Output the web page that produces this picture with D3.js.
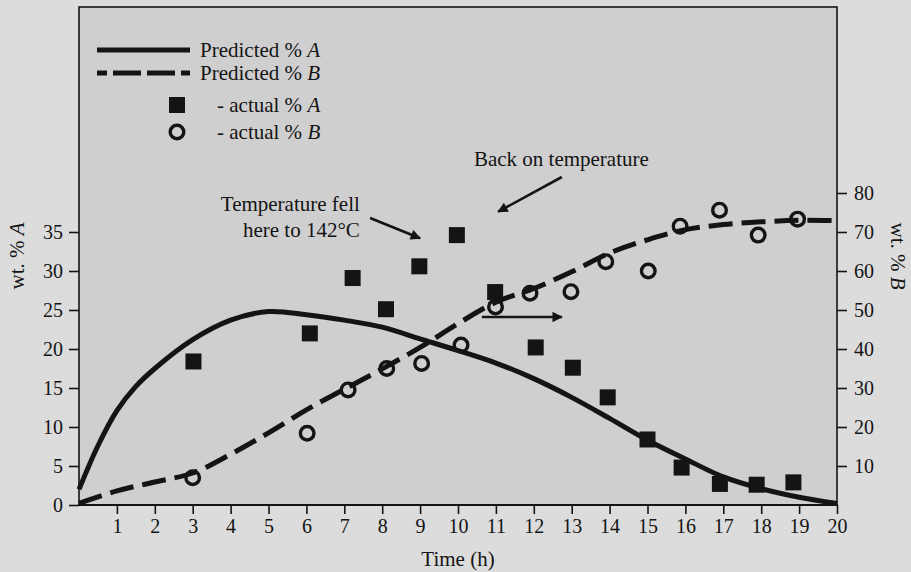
<!DOCTYPE html>
<html>
<head>
<meta charset="utf-8">
<script src="https://cdn.jsdelivr.net/npm/d3@7"></script>
<style>
  body { margin: 0; background: #dcdcdc; }
  svg { display: block; font-family: "Liberation Serif", "Times New Roman", serif; }
</style>
</head>
<body>
<div id="chart"></div>
<script>
// time ticks
const hours = d3.range(1, 21);
const leftTicks = [0, 5, 10, 15, 20, 25, 30, 35];
const rightTicks = [10, 20, 30, 40, 50, 60, 70, 80];

// predicted curves
const predTime = [0, 0.5, 1, 1.5, 2, 3, 4, 5, 6, 7, 8, 9, 10, 11, 12, 13, 14, 15, 16, 17, 18, 19, 20];
const predA = [2.0, 7.6, 12.1, 15.2, 17.5, 21.2, 23.7, 24.8, 24.4, 23.7, 22.8, 21.3, 19.8, 18.2, 16.2, 13.8, 11.1, 8.3, 5.9, 3.6, 2.1, 1.0, 0.2];
const predBTime = [0, 1, 2, 3, 4, 5, 6, 7, 8, 9, 10, 11, 12, 13, 14, 15, 16, 17, 18, 19, 20];
const predB = [0.4, 3.6, 5.9, 8.2, 13.0, 18.5, 24.4, 29.7, 34.9, 40.4, 46.5, 52.0, 55.5, 59.8, 64.6, 68.0, 70.6, 71.9, 72.6, 73.0, 72.9];

// measured points
const actATime = [3.02, 6.09, 7.22, 8.1, 8.98, 9.97, 10.98, 12.05, 13.03, 13.95, 15.0, 15.9, 16.91, 17.88, 18.85];
const actA = [18.4, 22.0, 29.1, 25.1, 30.6, 34.6, 27.3, 20.2, 17.6, 13.8, 8.4, 4.8, 2.7, 2.6, 2.9];
const actBTime = [3.0, 6.02, 7.1, 8.12, 9.04, 10.08, 10.99, 11.9, 12.98, 13.9, 15.02, 15.86, 16.9, 17.92, 18.96];
const actB = [7.0, 18.4, 29.5, 35.0, 36.3, 41.0, 50.8, 54.3, 54.7, 62.4, 60.0, 71.5, 75.6, 69.2, 73.3];

const W = 911, H = 572;
const ink = '#141414';
const svg = d3.select('#chart').append('svg').attr('width', W).attr('height', H);

const x = d3.scaleLinear().domain([0, 20]).range([79, 837]);
const yA = d3.scaleLinear().domain([0, 35]).range([505, 232]);
const yB = d3.scaleLinear().domain([0, 70]).range([505, 232]);
const plotTop = 7;

// plot background + frame
svg.append('rect')
    .attr('x', x(0)).attr('y', plotTop)
    .attr('width', x(20) - x(0)).attr('height', yA(0) - plotTop)
    .attr('fill', '#cfcfcf')
    .attr('stroke', ink).attr('stroke-width', 1.6);

// axes
const fontSize = 20;
const labelSize = 21;
const xAxis = svg.append('g')
    .attr('transform', `translate(0, ${yA(0)})`)
    .call(d3.axisBottom(x).tickValues(hours).tickSize(9).tickPadding(8).tickSizeOuter(0));
const leftAxis = svg.append('g')
    .attr('transform', `translate(${x(0)}, 0)`)
    .call(d3.axisLeft(yA).tickValues(leftTicks).tickSize(10).tickPadding(6).tickSizeOuter(0));
const rightAxis = svg.append('g')
    .attr('transform', `translate(${x(20)}, 0)`)
    .call(d3.axisRight(yB).tickValues(rightTicks).tickSize(10).tickPadding(7).tickSizeOuter(0));

[xAxis, leftAxis, rightAxis].forEach(g => {
    g.select('.domain').remove();
    g.selectAll('line').attr('stroke', ink).attr('stroke-width', 1.6);
    g.selectAll('text').attr('fill', ink).attr('font-size', fontSize)
        .attr('font-family', '"Liberation Serif", serif');
});
xAxis.selectAll('text').attr('dy', '0.55em');

svg.append('line')
    .attr('x1', x(0) - 1).attr('x2', x(20) + 1)
    .attr('y1', yA(0)).attr('y2', yA(0))
    .attr('stroke', ink).attr('stroke-width', 2.2);

// axis titles
svg.append('text')
    .attr('x', (x(0) + x(20)) / 2).attr('y', 566)
    .attr('text-anchor', 'middle').attr('font-size', labelSize).attr('fill', ink)
    .text('Time (h)');

const leftTitle = svg.append('text')
    .attr('transform', 'translate(24, 256) rotate(-90)')
    .attr('text-anchor', 'middle').attr('font-size', labelSize).attr('fill', ink);
leftTitle.append('tspan').text('wt. % ');
leftTitle.append('tspan').attr('font-style', 'italic').text('A');

const rightTitle = svg.append('text')
    .attr('transform', 'translate(891, 256) rotate(90)')
    .attr('text-anchor', 'middle').attr('font-size', labelSize).attr('fill', ink);
rightTitle.append('tspan').text('wt. % ');
rightTitle.append('tspan').attr('font-style', 'italic').text('B');

// predicted curves
const lineA = d3.line().x((d, i) => x(predTime[i])).y(d => yA(d)).curve(d3.curveCatmullRom.alpha(0.5));
const lineB = d3.line().x((d, i) => x(predBTime[i])).y(d => yB(d)).curve(d3.curveCatmullRom.alpha(0.5));

svg.append('path').datum(predA)
    .attr('d', lineA).attr('fill', 'none')
    .attr('stroke', ink).attr('stroke-width', 5);

svg.append('path').datum(predB)
    .attr('d', lineB).attr('fill', 'none')
    .attr('stroke', ink).attr('stroke-width', 5)
    .attr('stroke-dasharray', '24,9');

// measured points
const sq = 16;
svg.append('g').selectAll('rect')
    .data(actA)
    .join('rect')
    .attr('x', (d, i) => x(actATime[i]) - sq / 2)
    .attr('y', d => yA(d) - sq / 2)
    .attr('width', sq).attr('height', sq)
    .attr('fill', ink);

svg.append('g').selectAll('circle')
    .data(actB)
    .join('circle')
    .attr('cx', (d, i) => x(actBTime[i]))
    .attr('cy', d => yB(d))
    .attr('r', 6.8)
    .attr('fill', 'none')
    .attr('stroke', ink).attr('stroke-width', 3.4);

// legend
const legend = svg.append('g');
const legendRows = [
    {label: 'Predicted % ', it: 'A', y: 50, kind: 'solid'},
    {label: 'Predicted % ', it: 'B', y: 73, kind: 'dash'},
    {label: '- actual % ', it: 'A', y: 105, kind: 'square'},
    {label: '- actual % ', it: 'B', y: 132, kind: 'circle'}
];
legendRows.forEach(r => {
    if (r.kind === 'solid' || r.kind === 'dash') {
        legend.append('line')
            .attr('x1', 97).attr('x2', 190).attr('y1', r.y).attr('y2', r.y)
            .attr('stroke', ink).attr('stroke-width', 5)
            .attr('stroke-dasharray', r.kind === 'dash' ? '10,6,28,6,28,6,10' : null);
    } else if (r.kind === 'square') {
        legend.append('rect').attr('x', 177 - sq / 2).attr('y', r.y - sq / 2)
            .attr('width', sq).attr('height', sq).attr('fill', ink);
    } else {
        legend.append('circle').attr('cx', 177).attr('cy', r.y).attr('r', 6.8)
            .attr('fill', 'none').attr('stroke', ink).attr('stroke-width', 3.4);
    }
    const t = legend.append('text')
        .attr('x', r.kind === 'solid' || r.kind === 'dash' ? 200 : 217)
        .attr('y', r.y + 7)
        .attr('font-size', labelSize).attr('fill', ink);
    t.append('tspan').text(r.label);
    t.append('tspan').attr('font-style', 'italic').text(r.it);
});

// annotations
svg.append('defs').append('marker')
    .attr('id', 'head').attr('viewBox', '0 0 10 10')
    .attr('refX', 9).attr('refY', 5)
    .attr('markerWidth', 5).attr('markerHeight', 4)
    .attr('markerUnits', 'strokeWidth')
    .attr('orient', 'auto')
    .append('path').attr('d', 'M0,0 L10,5 L0,10 Z').attr('fill', ink);

const note1 = svg.append('text').attr('text-anchor', 'end')
    .attr('font-size', labelSize).attr('fill', ink);
note1.append('tspan').attr('x', x(7.41)).attr('y', yA(37.7)).text('Temperature fell');
note1.append('tspan').attr('x', x(7.41)).attr('y', yA(34.4)).text('here to 142°C');

svg.append('text')
    .attr('x', x(10.42)).attr('y', yA(43.5))
    .attr('font-size', labelSize).attr('fill', ink)
    .text('Back on temperature');

const arrows = [
    [7.68, 36.8, 9.0, 34.2],
    [12.74, 42.05, 11.06, 37.6],
    [10.63, 24.1, 12.74, 24.1]
];
svg.append('g').selectAll('line')
    .data(arrows)
    .join('line')
    .attr('x1', d => x(d[0])).attr('y1', d => yA(d[1]))
    .attr('x2', d => x(d[2])).attr('y2', d => yA(d[3]))
    .attr('stroke', ink).attr('stroke-width', 2.6)
    .attr('marker-end', 'url(#head)');
</script>
</body>
</html>
